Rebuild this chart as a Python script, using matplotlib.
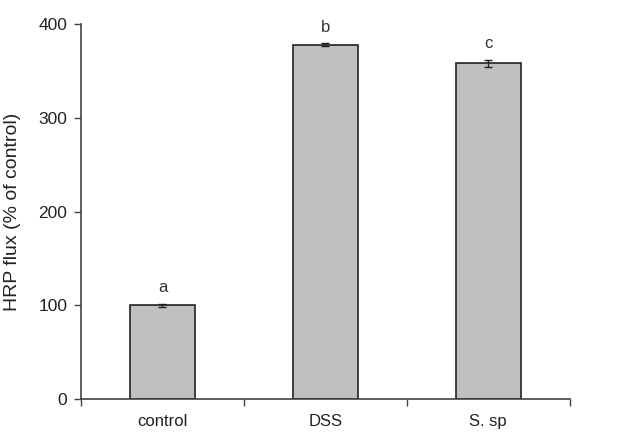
import matplotlib.pyplot as plt

plt.rcParams['font.family'] = ['Liberation Sans', 'DejaVu Sans']

groups = ['control', 'DSS', 'S. sp']
flux = [100, 378, 358]
err = [1.5, 1.5, 4]
letters = ['a', 'b', 'c']

fig = plt.figure(figsize=(6.43, 4.32), dpi=100)
ax = fig.add_axes([0.126, 0.0764, 0.76, 0.868])

x = range(len(groups))
ax.bar(x, flux, width=0.4, color='#c0c0c0', edgecolor='#222222', linewidth=1.2,
       yerr=err, error_kw=dict(ecolor='#222222', elinewidth=1, capsize=3, capthick=1))

for xi, v, e, s in zip(x, flux, err, letters):
    ax.text(xi, v + e + 9, s, ha='center', va='bottom', fontsize=12, color='#333333')

ax.set_xlim(-0.5, 2.5)
ax.set_ylim(0, 400)
ax.set_yticks([0, 100, 200, 300, 400])
ax.set_xticks([-0.5, 0.5, 1.5, 2.5])
ax.set_xticklabels([])
ax.set_xticks(list(x), minor=True)
ax.set_xticklabels(groups, minor=True)
ax.tick_params(axis='x', which='major', direction='out', length=5, width=1, color='#444444')
ax.tick_params(axis='x', which='minor', length=0, pad=11, labelsize=12, labelcolor='#222222')
ax.tick_params(axis='y', direction='out', length=5, width=1, color='#444444',
               labelsize=12.5, labelcolor='#222222', pad=5)

for side in ['top', 'right']:
    ax.spines[side].set_visible(False)
for side in ['left', 'bottom']:
    ax.spines[side].set_color('#444444')
    ax.spines[side].set_linewidth(1.2)

ax.set_ylabel('HRP flux (% of control)', fontsize=14, color='#222222', labelpad=12)

fig.savefig('out.png', dpi=100)
